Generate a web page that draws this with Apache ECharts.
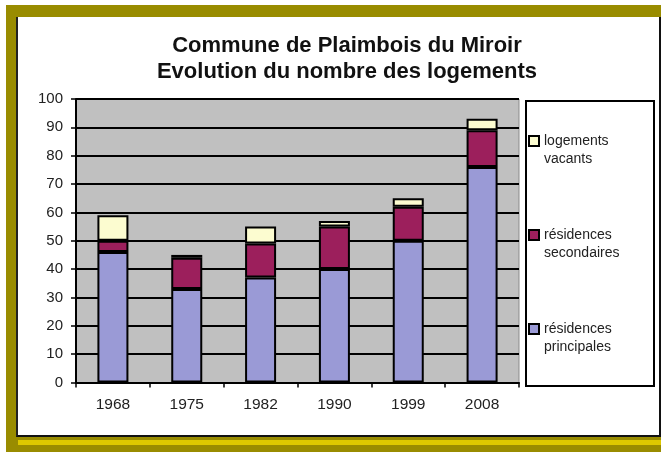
<!DOCTYPE html>
<html>
<head>
<meta charset="utf-8">
<script src="https://cdn.jsdelivr.net/npm/echarts@6/dist/echarts.min.js"></script>
<style>
  html, body { margin: 0; padding: 0; width: 663px; height: 452px; background: #ffffff; overflow: hidden; }
  #olive { position: absolute; left: 6px; top: 5px; width: 655px; height: 447px; background: #998c00; }
  #yellow { position: absolute; left: 18px; top: 440px; width: 643px; height: 5px; background: #ddc800; }
  #inner { position: absolute; left: 16px; top: 17px; width: 641px; height: 418px; background: #ffffff;
           border-left: 2px solid #222; border-right: 2px solid #111; border-bottom: 2px solid #111; }
  #chart { position: absolute; left: 0; top: 0; width: 663px; height: 452px; }
</style>
</head>
<body>
<div id="olive"></div>
<div id="yellow"></div>
<div id="inner"></div>
<div id="chart"></div>
<script>
const categories = ['1968', '1975', '1982', '1990', '1999', '2008'];
const principales = [46, 33, 37, 40, 50, 76];
const secondaires = [4, 11, 12, 15, 12, 13];
const vacants = [9, 1, 6, 2, 3, 4];
const seriesNames = ['résidences principales', 'résidences secondaires', 'logements vacants'];
const titleLines = ['Commune de Plaimbois du Miroir', 'Evolution du nombre des logements'];

const chart = echarts.init(document.getElementById('chart'), null, { renderer: 'canvas' });
const font = '"Liberation Sans", Arial, sans-serif';
const barStyle = (color) => ({ color: color, borderColor: '#000', borderWidth: 2 });

chart.setOption({
  backgroundColor: 'transparent',
  animation: false,
  textStyle: { fontFamily: font },
  title: {
    text: titleLines.join('\n'),
    left: 342, top: 28, textAlign: 'center',
    textStyle: { fontSize: 22, fontWeight: 'bold', color: '#111', lineHeight: 26, fontFamily: font }
  },
  graphic: [{
    type: 'rect', left: 525, top: 100, z: 0,
    shape: { width: 128, height: 285 },
    style: { fill: '#fff', stroke: '#000', lineWidth: 2 }
  }],
  legend: {
    orient: 'vertical', left: 528, top: 114, padding: 0, itemGap: 40,
    itemWidth: 10, itemHeight: 10, icon: 'rect',
    data: [seriesNames[2], seriesNames[1], seriesNames[0]],
    formatter: (n) => '\n' + n.replace(' ', '\n'),
    itemStyle: { borderColor: '#000', borderWidth: 2 },
    textStyle: { fontSize: 14, color: '#222', lineHeight: 18, fontFamily: font }
  },
  grid: {
    left: 76, right: 144, top: 99, bottom: 69.5,
    show: true, backgroundColor: '#c0c0c0', borderColor: '#8a8a8a', borderWidth: 1
  },
  xAxis: {
    type: 'category', data: categories,
    axisLine: { lineStyle: { color: '#000', width: 2 } },
    axisTick: { show: true, length: 5, lineStyle: { color: '#000', width: 1.5 } },
    axisLabel: { fontSize: 15.5, color: '#222', margin: 14, fontFamily: font }
  },
  yAxis: {
    type: 'value', min: 0, max: 100, interval: 10,
    axisLine: { show: true, lineStyle: { color: '#000', width: 2 } },
    axisTick: { show: true, length: 5, lineStyle: { color: '#000', width: 1.5 } },
    axisLabel: { fontSize: 15, color: '#222', margin: 13, fontFamily: font },
    splitLine: { show: true, lineStyle: { color: '#000', width: 2 } }
  },
  series: [
    { name: seriesNames[0], type: 'bar', stack: 'total', data: principales, barWidth: '42%', itemStyle: barStyle('#9a9ad6') },
    { name: seriesNames[1], type: 'bar', stack: 'total', data: secondaires, barWidth: '42%', itemStyle: barStyle('#9c1f5c') },
    { name: seriesNames[2], type: 'bar', stack: 'total', data: vacants, barWidth: '42%', itemStyle: barStyle('#fcfcd0') }
  ]
});
</script>
</body>
</html>
